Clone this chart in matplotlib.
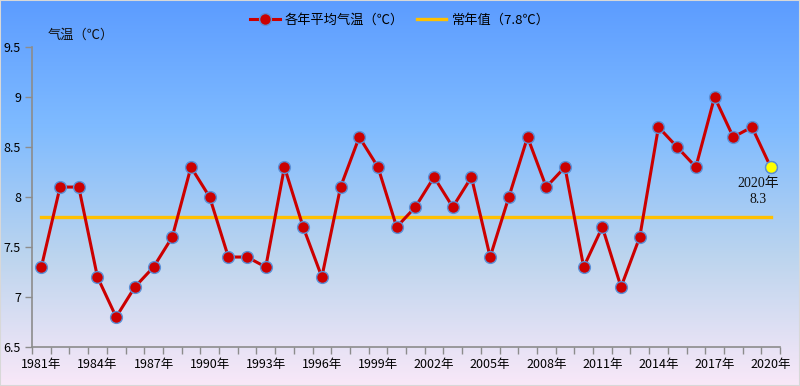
import matplotlib
matplotlib.use("Agg")
import matplotlib.pyplot as plt
import numpy as np
from matplotlib.colors import LinearSegmentedColormap
from matplotlib.lines import Line2D

plt.rcParams['font.family'] = ['Noto Sans CJK SC', 'DejaVu Sans']

years = list(range(1981, 2021))
temps = [7.3, 8.1, 8.1, 7.2, 6.8, 7.1, 7.3, 7.6, 8.3, 8.0,
         7.4, 7.4, 7.3, 8.3, 7.7, 7.2, 8.1, 8.6, 8.3, 7.7,
         7.9, 8.2, 7.9, 8.2, 7.4, 8.0, 8.6, 8.1, 8.3, 7.3,
         7.7, 7.1, 7.6, 8.7, 8.5, 8.3, 9.0, 8.6, 8.7, 8.3]
normal_value = 7.8
series_label = "各年平均气温（℃）"
normal_label = "常年值（7.8℃）"
y_label = "气温（℃）"
y_ticks = [6.5, 7, 7.5, 8, 8.5, 9, 9.5]
y_ticklabels = ["6.5", "7", "7.5", "8", "8.5", "9", "9.5"]

fig = plt.figure(figsize=(8.0, 3.86), dpi=100)

# background gradient
bg = fig.add_axes([0, 0, 1, 1], zorder=0)
cmap = LinearSegmentedColormap.from_list(
    "bg", [(0.0, "#5C9CFF"), (0.33, "#7FBBFF"), (0.67, "#BDD5EE"), (1.0, "#F9E8F8")])
grad = np.linspace(0, 1, 256).reshape(-1, 1)
bg.imshow(grad, aspect="auto", cmap=cmap, extent=[0, 1, 0, 1], origin="upper")
bg.set_axis_off()
bg.add_patch(plt.Rectangle((0, 0), 1, 1, transform=bg.transAxes, fill=False,
                           edgecolor="#D8D8D8", linewidth=1.5))

ax = fig.add_axes([0.04, 0.101, 0.935, 0.777], zorder=1)
ax.patch.set_alpha(0)
x = np.arange(len(years))

ax.plot([x[0], x[-1]], [normal_value, normal_value], color="#FFC000", linewidth=2.4, zorder=2)
ax.plot(x, temps, color="#CC0000", linewidth=2.2, marker="o", markersize=8.5,
        markerfacecolor="#CC0000", markeredgecolor="#5A8FD6", markeredgewidth=1.0, zorder=3)
ax.plot([x[-1]], [temps[-1]], linestyle="none", marker="o", markersize=8.5,
        markerfacecolor="#FFFF00", markeredgecolor="#5A8FD6", markeredgewidth=1.0, zorder=4)
ax.annotate(f"{years[-1]}年\n{temps[-1]}", (x[-1], temps[-1]), xytext=(-9, -7.5),
            textcoords="offset points", ha="center", va="top", fontsize=10,
            linespacing=1.3, color="#111111",
            family=["Liberation Serif", "Noto Sans CJK SC"])

ax.set_xlim(-0.5, len(years) - 0.5)
ax.set_ylim(6.5, 9.5)
ax.set_yticks(y_ticks)
ax.set_yticklabels(y_ticklabels, fontsize=9)
label_idx = x[::3]
ax.set_xticks(label_idx)
ax.set_xticklabels([f"{years[i]}年" for i in label_idx], fontsize=9)
ax.tick_params(axis="x", length=0, pad=8)
ax.set_xticks(np.arange(-0.5, len(years), 1.0), minor=True)
ax.tick_params(axis="x", which="minor", length=5, color="#8C8C8C", width=1)
ax.tick_params(axis="y", length=5, color="#8C8C8C", width=1, pad=3)
for s in ["top", "right"]:
    ax.spines[s].set_visible(False)
for s in ["left", "bottom"]:
    ax.spines[s].set_color("#8C8C8C")
    ax.spines[s].set_linewidth(1.2)

fig.text(0.059, 0.91, y_label, fontsize=9.5, ha="left", va="center", color="#111111")

handles = [Line2D([0], [0], color="#CC0000", linewidth=2.2, marker="o", markersize=8.5,
                  markerfacecolor="#CC0000", markeredgecolor="#5A8FD6"),
           Line2D([0], [0], color="#FFC000", linewidth=2.4)]
fig.legend(handles, [series_label, normal_label], loc="center", bbox_to_anchor=(0.5, 0.948),
           ncol=2, frameon=False, fontsize=9.5, handlelength=2.2, columnspacing=1.0,
           handletextpad=0.4)

fig.savefig("out.png", dpi=100)
